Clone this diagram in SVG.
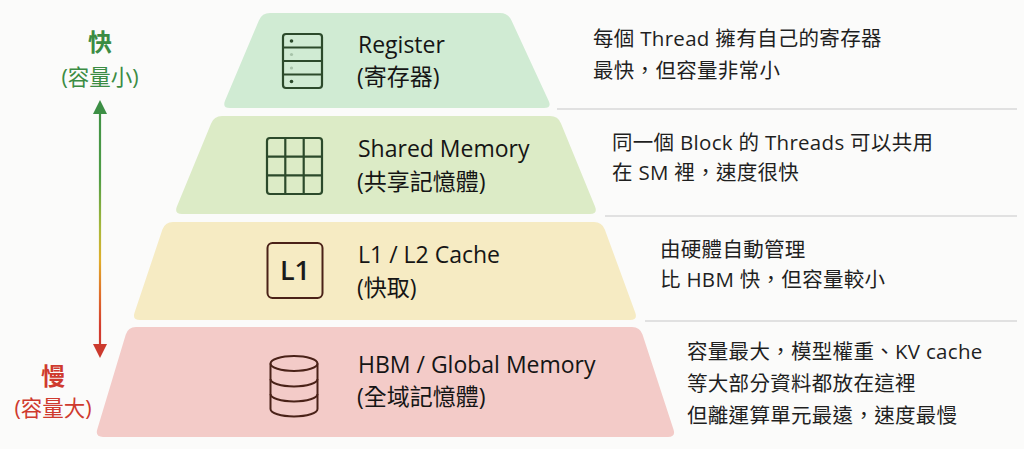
<svg xmlns="http://www.w3.org/2000/svg" width="1024" height="449" viewBox="0 0 1024 449">
<style>
  .title { font-family: "Open Sans", "Noto Sans CJK TC", sans-serif; font-size: 23px; fill: #151515; }
  .sub { font-family: "Open Sans", "Noto Sans CJK TC", sans-serif; font-size: 23px; fill: #151515; }
  .desc { font-family: "Open Sans", "Noto Sans CJK TC", sans-serif; font-size: 20.5px; letter-spacing: 0.3px; fill: #1f1f1f; }
  .speed { font-family: "Open Sans", "Noto Sans CJK TC", sans-serif; text-anchor: middle; }
  .big { font-size: 24px; font-weight: 600; }
  .small { font-size: 21.5px; }
  .green { fill: #3b8c43; }
  .red { fill: #cf3a2e; }
  .sep { stroke: #d9d9d9; stroke-width: 1.5; fill: none; }
  .icon-g { fill: none; stroke: #2c4a2b; stroke-width: 2.2; }
  .icon-b { fill: none; stroke: #4a2218; stroke-width: 2; }
</style>
<defs>
  <linearGradient id="speedGrad" gradientUnits="userSpaceOnUse" x1="0" y1="100" x2="0" y2="358">
    <stop offset="0" stop-color="#3d8f45"/>
    <stop offset="0.3" stop-color="#4f9d45"/>
    <stop offset="0.5" stop-color="#a9b83a"/>
    <stop offset="0.62" stop-color="#e0ae2a"/>
    <stop offset="0.75" stop-color="#e0702a"/>
    <stop offset="0.88" stop-color="#d33b2e"/>
    <stop offset="1" stop-color="#cc3a2e"/>
  </linearGradient>
</defs>
<rect width="1024" height="449" fill="#fbfbfa"/>

<g id="separators">
  <line class="sep" x1="557" y1="109" x2="1017" y2="109"/>
  <line class="sep" x1="605" y1="216" x2="1017" y2="216"/>
  <line class="sep" x1="645" y1="321" x2="1017" y2="321"/>
</g>

<g id="tier-register">
  <path d="M 270,13 L 500,13 Q 508,13 511.4,20.3 L 548.6,100.7 Q 552,108 544,108 L 230,108 Q 222,108 225.1,100.6 L 258.9,20.4 Q 262,13 270,13 Z" fill="#d0ebd3"/>
  <rect class="icon-g" x="283" y="34" width="39" height="54" rx="3"/>
  <line class="icon-g" x1="283" y1="47.5" x2="322" y2="47.5"/>
  <line class="icon-g" x1="283" y1="61" x2="322" y2="61"/>
  <line class="icon-g" x1="283" y1="74.5" x2="322" y2="74.5"/>
  <circle cx="291.5" cy="41" r="1.8" fill="#2c4a2b"/>
  <circle cx="291.5" cy="54.5" r="1.6" fill="#2c4a2b" opacity="0.25"/>
  <circle cx="291.5" cy="68" r="1.6" fill="#2c4a2b" opacity="0.25"/>
  <circle cx="291.5" cy="81.5" r="1.8" fill="#2c4a2b"/>
  <text class="title" x="358" y="53">Register</text>
  <text class="sub" x="357" y="85">(寄存器)</text>
  <text class="desc" x="593" y="46">每個 Thread 擁有自己的寄存器</text>
  <text class="desc" x="593" y="78">最快，但容量非常小</text>
</g>

<g id="tier-shared">
  <path d="M 222,116 L 550,116 Q 558,116 561,123.4 L 595,206.6 Q 598,214 590,214 L 182,214 Q 174,214 176.9,206.5 L 211.1,123.5 Q 214,116 222,116 Z" fill="#dcebc6"/>
  <rect class="icon-g" x="267" y="138" width="55" height="56" rx="3" stroke-width="2.5"/>
  <line class="icon-g" x1="285.3" y1="138" x2="285.3" y2="194" stroke-width="2.5"/>
  <line class="icon-g" x1="303.7" y1="138" x2="303.7" y2="194" stroke-width="2.5"/>
  <line class="icon-g" x1="267" y1="156.7" x2="322" y2="156.7" stroke-width="2.5"/>
  <line class="icon-g" x1="267" y1="175.3" x2="322" y2="175.3" stroke-width="2.5"/>
  <text class="title" x="358" y="157">Shared Memory</text>
  <text class="sub" x="357" y="190">(共享記憶體)</text>
  <text class="desc" x="612" y="150">同一個 Block 的 Threads 可以共用</text>
  <text class="desc" x="612" y="180">在 SM 裡，速度很快</text>
</g>

<g id="tier-cache">
  <path d="M 173,222 L 594,222 Q 602,222 604.8,229.5 L 635.2,312.5 Q 638,320 630,320 L 140,320 Q 132,320 134.6,312.4 L 162.4,229.6 Q 165,222 173,222 Z" fill="#f6ebc3"/>
  <rect class="icon-b" x="267.5" y="243" width="55" height="55" rx="5" fill="#f9efcb"/>
  <text x="295" y="280" text-anchor="middle" font-family="'Open Sans', sans-serif" font-size="27" font-weight="600" fill="#1a1a1a">L1</text>
  <text class="title" x="358" y="263">L1 / L2 Cache</text>
  <text class="sub" x="357" y="296">(快取)</text>
  <text class="desc" x="660" y="257">由硬體自動管理</text>
  <text class="desc" x="660" y="287">比 HBM 快，但容量較小</text>
</g>

<g id="tier-hbm">
  <path d="M 136,327 L 632,327 Q 640,327 642.5,334.6 L 673.5,429.4 Q 676,437 668,437 L 103,437 Q 95,437 97.3,429.3 L 125.7,334.7 Q 128,327 136,327 Z" fill="#f3cbc8"/>
  <ellipse class="icon-b" cx="294" cy="363.5" rx="23.5" ry="7.5"/>
  <path class="icon-b" d="M 270.5,363.5 L 270.5,409 A 23.5,7.5 0 0 0 317.5,409 L 317.5,363.5"/>
  <path class="icon-b" d="M 270.5,379 A 23.5,7.5 0 0 0 317.5,379"/>
  <path class="icon-b" d="M 270.5,394 A 23.5,7.5 0 0 0 317.5,394"/>
  <text class="title" x="358" y="373">HBM / Global Memory</text>
  <text class="sub" x="357" y="405">(全域記憶體)</text>
  <text class="desc" x="687" y="359">容量最大，模型權重、KV cache</text>
  <text class="desc" x="687" y="391">等大部分資料都放在這裡</text>
  <text class="desc" x="687" y="423">但離運算單元最遠，速度最慢</text>
</g>

<g id="speed-labels">
  <text class="speed big green" x="100" y="51">快</text>
  <text class="speed small green" x="100" y="85">(容量小)</text>
  <text class="speed big red" x="53" y="385">慢</text>
  <text class="speed small red" x="53" y="416">(容量大)</text>
</g>

<g id="connectors">
  <line x1="100" y1="112" x2="100" y2="346" stroke="url(#speedGrad)" stroke-width="2.2"/>
  <polygon points="100,100 93,114 107,114" fill="#3d8f45"/>
  <polygon points="100,358 93,344 107,344" fill="#cc3a2e"/>
</g>
</svg>
